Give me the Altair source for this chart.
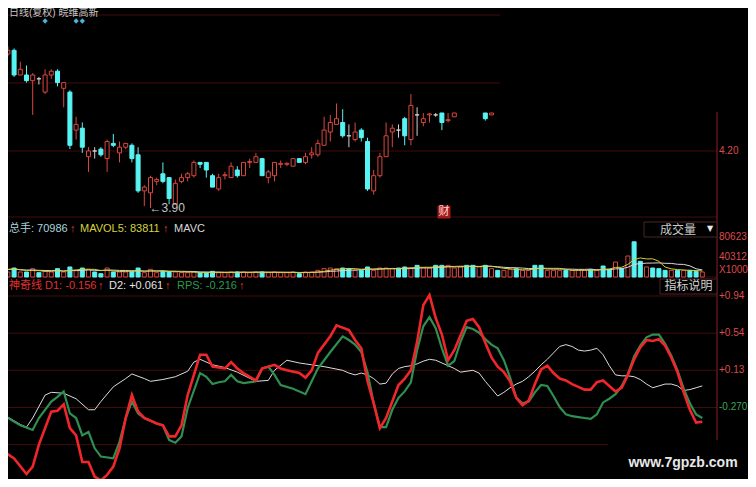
import altair as alt
import numpy as np
import pandas as pd

# ---------------- data ----------------
N_BARS = 114
bar_idx = list(range(N_BARS))

c_open = [4.74, 4.71, 4.73, 4.60, 4.60, 4.57, 4.58, 4.51, 4.60, 4.62,
          4.53, 4.51, 4.31, 4.32, 4.17, 4.20, 4.21, 4.16, 4.24, 4.19,
          4.22, 4.23, 4.18, 3.99, 3.98, 4.04, 4.08, 4.06, 3.92, 4.04,
          4.06, 4.07, 4.14, 4.14, 4.07, 4.00, 4.07, 4.06, 4.10, 4.07,
          4.14, 4.14, 4.16, 4.06, 4.07, 4.13, 4.13, 4.12, 4.16, 4.14,
          4.18, 4.18, 4.23, 4.30, 4.34, 4.35, 4.28, 4.26, 4.31, 4.25,
          3.99, 4.07, 4.17, 4.30, 4.31, 4.37, 4.26, 4.39, 4.35, 4.39,
          4.39, 4.40, 4.36, 4.38, None, None, None, None, 4.40, 4.39]
c_high = [4.79, 4.75, 4.74, 4.67, 4.65, 4.61, 4.59, 4.63, 4.63, 4.63,
          4.56, 4.52, 4.38, 4.35, 4.22, 4.22, 4.22, 4.26, 4.29, 4.25,
          4.24, 4.24, 4.22, 4.02, 4.07, 4.06, 4.14, 4.06, 4.05, 4.08,
          4.09, 4.15, 4.14, 4.14, 4.08, 4.08, 4.09, 4.14, 4.12, 4.14,
          4.16, 4.19, 4.16, 4.10, 4.14, 4.15, 4.14, 4.16, 4.16, 4.19,
          4.22, 4.26, 4.38, 4.39, 4.45, 4.42, 4.34, 4.35, 4.32, 4.27,
          4.10, 4.19, 4.35, 4.34, 4.34, 4.38, 4.50, 4.43, 4.40, 4.40,
          4.40, 4.40, 4.40, 4.40, None, None, None, None, 4.40, 4.40]
c_low = [4.66, 4.70, 4.59, 4.60, 4.56, 4.39, 4.55, 4.50, 4.58, 4.54,
         4.43, 4.21, 4.26, 4.19, 4.09, 4.16, 4.17, 4.09, 4.22, 4.14,
         4.21, 4.14, 3.98, 3.91, 3.90, 4.02, 4.03, 3.92, 3.92, 4.03,
         4.04, 4.06, 4.11, 4.06, 4.01, 3.99, 4.05, 4.06, 4.06, 4.07,
         4.11, 4.14, 4.07, 4.03, 4.04, 4.11, 4.12, 4.12, 4.14, 4.13,
         4.16, 4.17, 4.23, 4.25, 4.34, 4.27, 4.22, 4.25, 4.25, 3.99,
         3.97, 4.06, 4.17, 4.22, 4.27, 4.23, 4.23, 4.28, 4.33, 4.35,
         4.38, 4.31, 4.35, 4.38, None, None, None, None, 4.36, 4.39]
c_close = [4.71, 4.73, 4.60, 4.63, 4.57, 4.60, 4.58, 4.60, 4.62, 4.56,
           4.56, 4.23, 4.34, 4.22, 4.20, 4.20, 4.18, 4.25, 4.23, 4.22,
           4.24, 4.16, 3.99, 4.01, 4.06, 4.05, 4.04, 3.95, 4.03, 4.06,
           4.08, 4.14, 4.13, 4.10, 4.01, 4.06, 4.075, 4.12, 4.07, 4.14,
           4.145, 4.17, 4.07, 4.09, 4.14, 4.135, 4.135, 4.16, 4.14, 4.17,
           4.19, 4.24, 4.31, 4.35, 4.37, 4.28, 4.28, 4.30, 4.27, 4.00,
           4.07, 4.17, 4.28, 4.32, 4.31, 4.28, 4.44, 4.39, 4.37, 4.395,
           4.39, 4.35, 4.365, 4.40, None, None, None, None, 4.37, 4.40]

volume = [20200, 10100, 18100, 10100, 10100, 16800, 8700, 11400, 10100, 16800,
          10100, 20200, 13400, 18100, 15500, 10100, 6700, 18100, 10100, 10100,
          10100, 11400, 18100, 8700, 15500, 8700, 11400, 11400, 10100, 8700,
          8700, 10100, 8700, 8700, 11400, 8700, 8700, 10100, 10100, 10100,
          8700, 10100, 10100, 8700, 10100, 8700, 8700, 10100, 6700, 10100,
          10100, 13400, 16800, 18100, 16800, 18100, 16800, 13400, 13400, 20200,
          13400, 18100, 18100, 16800, 18100, 20200, 18100, 23500, 18100, 18100,
          23500, 23500, 23500, 18100, 20200, 23500, 23500, 20200, 23500, 16800,
          13400, 13400, 15500, 16800, 13400, 13400, 23500, 23500, 13400, 13400,
          13400, 13400, 13400, 13400, 13400, 15500, 13400, 22200, 15500, 30200,
          16800, 42300, 70986, 31600, 20200, 18100, 16800, 13400, 13400, 13400,
          13400, 13400, 11400, 10100]
vol_dir = list("dudududuud" "udududdudu" "udduuudduu" "uuddduuudu" "uuduuuuudu"
               "uuuuuddudd" "uuuudduduu" "dduuuddudu" "duuduudduu" "uduuududdu"
               "duddudddud" "uddu")

d1 = [-0.74, None, -0.83, None, -1.00, -0.92, -0.68, None, -0.32, -0.31,
      -0.24, -0.50, -0.58, -0.87, -0.87, -1.03, -1.07, -1.01, -0.92, -0.72,
      -0.39, -0.14, -0.32, -0.39, None, -0.45, -0.47, -0.59, -0.59, -0.47,
      -0.14, None, 0.30, 0.30, 0.17, 0.16, 0.15, 0.22, 0.15, 0.10,
      None, 0.02, 0.15, None, 0.19, 0.15, 0.13, None, 0.10, 0.05,
      0.13, 0.32, None, 0.50, 0.62, None, 0.57, 0.46, 0.37, 0.01,
      -0.23, -0.50, -0.39, None, -0.03, 0.04, 0.13, 0.44, 0.84, 0.95,
      0.70, 0.52, 0.24, 0.35, 0.51, 0.67, 0.69, 0.60, 0.43, 0.27,
      0.17, 0.11, 0.01, -0.17, -0.25, -0.20, -0.02, 0.14, 0.18, 0.10,
      0.04, 0.02, -0.02, -0.05, -0.08, -0.08, 0.00, 0.02, -0.04, -0.10,
      -0.06, 0.08, 0.25, 0.38, 0.46, 0.45, 0.47, 0.40, 0.27, 0.11,
      -0.11, -0.30, -0.44, -0.43]
rps = [-0.35, -0.39, None, -0.47, None, -0.52, -0.39, None, -0.21, -0.16,
       -0.10, -0.34, -0.39, -0.58, -0.54, -0.72, -0.81, None, -0.83, -0.65,
       -0.39, -0.21, -0.34, -0.39, None, -0.45, -0.47, -0.63, -0.66, -0.59,
       -0.28, None, 0.10, 0.06, -0.02, 0.00, 0.01, 0.08, 0.01, -0.01,
       None, 0.01, 0.15, 0.17, 0.08, -0.03, None, -0.07, None, -0.13,
       0.01, 0.15, None, 0.33, None, 0.50, 0.46, 0.41, 0.33, 0.11,
       -0.23, -0.49, -0.49, -0.30, -0.17, -0.10, 0.00, 0.35, 0.61, 0.71,
       0.59, 0.37, 0.18, 0.23, 0.44, 0.60, 0.58, 0.54, 0.47, 0.41,
       0.37, 0.24, 0.05, -0.17, -0.23, -0.21, -0.11, -0.03, -0.04, -0.15,
       -0.27, -0.35, -0.37, -0.38, -0.39, -0.40, -0.35, -0.22, -0.18, -0.13,
       -0.04, 0.09, 0.28, 0.40, 0.49, 0.52, 0.52, 0.42, 0.29, 0.13,
       -0.07, -0.23, -0.35, -0.39]
d2 = [-0.34, -0.38, None, -0.46, -0.49, -0.39, None, -0.14, -0.11, None,
      -0.12, None, -0.18, None, -0.30, -0.30, -0.21, None, -0.05, None,
      0.04, 0.09, None, 0.04, 0.01, None, 0.03, None, 0.06, None,
      0.12, 0.22, 0.25, None, 0.19, None, 0.16, None, 0.11, None,
      None, 0.01, None, 0.02, 0.13, None, 0.24, None, 0.21, None,
      0.19, None, 0.17, None, None, 0.13, 0.10, 0.08, 0.10, 0.08,
      0.04, -0.02, -0.01, 0.09, 0.15, 0.17, 0.18, 0.20, 0.23, 0.25,
      0.24, 0.21, 0.18, 0.15, 0.11, 0.12, 0.13, 0.10, 0.01, -0.07,
      -0.15, -0.11, -0.06, -0.02, 0.01, 0.06, 0.12, 0.19, 0.25, 0.32,
      0.39, 0.41, 0.39, 0.35, 0.34, 0.35, 0.37, 0.30, 0.18, 0.08,
      0.07, 0.07, 0.06, 0.03, -0.02, -0.06, -0.04, -0.02, -0.02, -0.04,
      -0.09, -0.08, -0.06, -0.04]

event_bars = [7, 12, 13]
price_grid = [4.9158, 4.5579, 4.20, 3.8526]
ind_grid = [0.94, 0.535, 0.13, -0.275]
ind_grid_low = [-0.68]
price_ticks = [4.20]
price_tick_text = ["4.20"]
vol_ticks = [80623, 40312]
vol_tick_text = ["80623", "40312"]
ind_ticks = [0.94, 0.535, 0.13]
ind_tick_text = ["+0.94", "+0.54", "+0.13"]
ind_tick_low = [-0.275]
ind_tick_low_text = ["-0.270"]

# ---------------- style ----------------
RED = "#d9463e"
CYAN = "#58f4f4"
GREY = "#cfcfcf"
GRID = "#420c0c"
AXIS = "#8e1e1e"
LBL = "#dc4b4b"
LAT = "Liberation Sans, Noto Sans CJK SC"
CJK = "Noto Sans CJK SC"
HS = 11   # header font size
RS = 10   # right-hand tick label size
AX = 709  # right axis position (px)

W, H = 740, 471
X0 = 6.3 / 6.2
xs = alt.Scale(domain=[X0, X0 + W / 6.2], nice=False, zero=False, padding=0)
ps = alt.Scale(domain=[3.8526, 4.9158], range=[209, 7], nice=False, zero=False)
vs = alt.Scale(domain=[0, 80623], range=[269, 229], nice=False, zero=False)
ins = alt.Scale(domain=[-1.2, 1.0], range=[484.33, 282.5], nice=False, zero=False)

X = alt.X("i:Q", scale=xs, axis=None)

# ---------------- frames ----------------
cdf = pd.DataFrame({"i": bar_idx[:80], "O": c_open, "H": c_high,
                    "L": c_low, "C": c_close}).dropna()
cdf["dir"] = np.where(cdf.C > cdf.O, "up", np.where(cdf.C < cdf.O, "down", "flat"))

vdf = pd.DataFrame({"i": bar_idx, "vol": volume, "dir": vol_dir})
vdf["base"] = 0


def series(vals):
    d = pd.DataFrame({"i": bar_idx, "v": vals})
    return d.dropna()


layers = []


def hrule(vals, scale, x1, x2, color=GRID, w=1):
    return alt.Chart(pd.DataFrame({"v": vals})).mark_rule(color=color, strokeWidth=w).encode(
        y=alt.Y("v:Q", scale=scale, axis=None), x=alt.value(x1), x2=alt.value(x2))


one = pd.DataFrame({"k": [0]})


def label(txt, x, y, color, size=HS, align="left", font=LAT, weight="normal"):
    return alt.Chart(one).mark_text(text=txt, align=align, baseline="middle", font=font,
                                    fontSize=size, color=color, fontWeight=weight).encode(
        x=alt.value(x), y=alt.value(y))


def box(x1, x2, y1, y2, stroke, fill="#000000"):
    return alt.Chart(one).mark_rect(fill=fill, stroke=stroke, strokeWidth=1).encode(
        x=alt.value(x1), x2=alt.value(x2), y=alt.value(y1), y2=alt.value(y2))


# grid lines
layers.append(hrule(price_grid[:2], ps, 0, 492))
layers.append(hrule(price_grid[2:], ps, 0, AX))
layers.append(hrule([0], vs, 0, AX))
layers.append(hrule(ind_grid, ins, 0, AX))
layers.append(hrule(ind_grid_low, ins, 0, 600))
# right axis line
layers.append(alt.Chart(one).mark_rule(color=AXIS, strokeWidth=1).encode(
    x=alt.value(AX), y=alt.value(104), y2=alt.value(432)))

# candles
for d, col in [("up", RED), ("down", CYAN), ("flat", GREY)]:
    sub = cdf[cdf.dir == d]
    layers.append(alt.Chart(sub).mark_rule(color=col, strokeWidth=1).encode(
        x=X, y=alt.Y("L:Q", scale=ps, axis=None), y2="H:Q"))
for d, fill, col in [("up", "#000000", RED), ("down", CYAN, CYAN), ("flat", GREY, GREY)]:
    sub = cdf[cdf.dir == d]
    layers.append(alt.Chart(sub).mark_bar(size=4, fill=fill, stroke=col, strokeWidth=1,
                                          orient="vertical").encode(
        x=X, y=alt.Y("O:Q", scale=ps, axis=None), y2="C:Q"))

# low marker
low_row = cdf.loc[cdf.L.idxmin()]
low_df = pd.DataFrame({"i": [low_row.i], "p": [low_row.L], "t": ["\u2190" + f"{low_row.L:.2f}"]})
layers.append(alt.Chart(low_df).mark_text(align="left", baseline="middle", font=LAT,
                                          fontSize=12, color="#c4c4c4", dx=-1).encode(
    x=X, y=alt.Y("p:Q", scale=ps, axis=None), text="t:N"))

# event diamonds
layers.append(alt.Chart(pd.DataFrame({"i": event_bars})).mark_point(
    shape="diamond", filled=True, size=28, color="#48b4da", opacity=1).encode(
    x=X, y=alt.value(13)))

# volume bars
for d, fill, col in [("u", "#000000", RED), ("d", CYAN, CYAN)]:
    sub = vdf[vdf.dir == d]
    layers.append(alt.Chart(sub).mark_bar(size=4, fill=fill, stroke=col, strokeWidth=1,
                                          orient="vertical").encode(
        x=X, y=alt.Y("vol:Q", scale=vs, axis=None), y2="base:Q"))
# volume moving averages
layers.append(alt.Chart(vdf).transform_window(
    ma="mean(vol)", frame=[-9, 0], sort=[alt.SortField("i")]).mark_line(
    color="#d8d8d8", strokeWidth=1).encode(x=X, y=alt.Y("ma:Q", scale=vs, axis=None)))
layers.append(alt.Chart(vdf).transform_window(
    ma="mean(vol)", frame=[-4, 0], sort=[alt.SortField("i")]).mark_line(
    color="#d6cf3c", strokeWidth=1).encode(x=X, y=alt.Y("ma:Q", scale=vs, axis=None)))

# indicator lines
layers.append(alt.Chart(series(d2)).mark_line(color="#dcdcdc", strokeWidth=1).encode(
    x=X, y=alt.Y("v:Q", scale=ins, axis=None)))
layers.append(alt.Chart(series(rps)).mark_line(color="#2f8f52", strokeWidth=2.2).encode(
    x=X, y=alt.Y("v:Q", scale=ins, axis=None)))
layers.append(alt.Chart(series(d1)).mark_line(color="#f0262a", strokeWidth=2.6).encode(
    x=X, y=alt.Y("v:Q", scale=ins, axis=None)))


# right-side tick labels
def ylabels(vals, texts, scale, color):
    df = pd.DataFrame({"v": vals, "t": texts})
    return alt.Chart(df).mark_text(align="left", baseline="middle", font=LAT, fontSize=RS,
                                   color=color).encode(
        y=alt.Y("v:Q", scale=scale, axis=None), x=alt.value(AX + 2), text="t:N")


layers.append(ylabels(price_ticks, price_tick_text, ps, LBL))
layers.append(ylabels(vol_ticks, vol_tick_text, vs, LBL))
layers.append(label("X1000", AX + 2, 262, LBL, size=RS))
layers.append(ylabels(ind_ticks, ind_tick_text, ins, LBL))
layers.append(ylabels(ind_tick_low, ind_tick_low_text, ins, "#3aa65a"))

# boxes
layers.append(box(636, AX, 214, 229, "#4a2424"))
layers.append(label("成交量", 670, 222, "#c8c8c8", size=12, align="center", font=CJK))
layers.append(label("\u25BC", AX - 7, 221, "#e8e8e8", size=8, align="center", font="DejaVu Sans"))
layers.append(box(652, AX, 271, 286, "#4a2424"))
layers.append(label("指标说明", 680.5, 278, "#d2d2d2", size=12, align="center", font=CJK))
layers.append(box(430, 442, 198, 210, "#a31a1a", fill="#a31a1a"))
layers.append(label("财", 436, 204, "#ffd6d6", size=11, align="center", font=CJK))

# headers
layers.append(label("日线(复权) 皖维高新", 1, 5, "#c8c8c8", size=10))
layers.append(label("总手: 70986", 1, 221, "#a9d4dc"))
layers.append(label("\u2191", 62, 221, "#e03a3a"))
layers.append(label("MAVOL5: 83811", 72, 221, "#d8d23c"))
layers.append(label("\u2191", 155, 221, "#e03a3a"))
layers.append(label("MAVC", 166, 221, "#d8d8d8"))
layers.append(label("神奇线 D1: -0.156", 1, 278, "#e0302f"))
layers.append(label("\u2191", 90, 278, "#e03a3a"))
layers.append(label("D2: +0.061", 101, 278, "#e6e6e6"))
layers.append(label("\u2191", 157, 278, "#e03a3a"))
layers.append(label("RPS: -0.216", 169, 278, "#2f9a4f"))
layers.append(label("\u2191", 231, 278, "#e03a3a"))

# watermark
layers.append(label("www.7gpzb.com", 675, 455, "#e8e8e8", size=14, align="center",
                    weight="bold"))

chart = alt.layer(*layers).resolve_scale(y="independent").properties(
    width=W, height=H, padding=0,
    autosize=alt.AutoSizeParams(type="none"),
).configure(background="#000000").configure_view(stroke=None, fill="#000000")

chart.save("out.html", embed_options={"renderer": "svg", "actions": False})
